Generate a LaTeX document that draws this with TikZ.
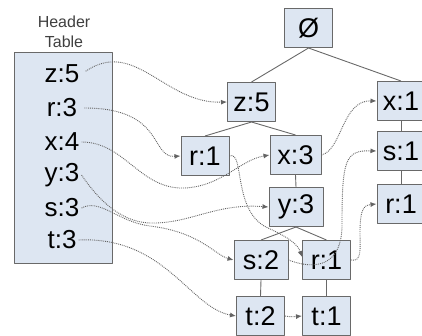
\documentclass[tikz,border=0pt]{standalone}
\usepackage{fontspec}
\setmainfont{Liberation Sans}
\usetikzlibrary{arrows.meta}
\definecolor{fpedge}{RGB}{105,105,105}
\definecolor{fpfill}{RGB}{221,230,242}
\definecolor{fplink}{RGB}{100,100,100}
\tikzset{
  fpbox/.style={
    draw=fpedge, fill=fpfill, line width=1pt, inner sep=0pt,
    minimum width=48pt, minimum height=39pt,
    font=\fontsize{27}{29}\selectfont
  },
  hitem/.style={inner sep=2pt, font=\fontsize{26}{28}\selectfont},
  tedge/.style={draw=fpedge, line width=0.9pt},
  link/.style={-{Latex[length=6pt,width=5pt]}, draw=fplink, densely dotted, line width=0.9pt},
  hlink/.style={link, shorten <=5pt},
  every picture/.append style={line join=round}
}
\begin{document}
\begin{tikzpicture}[x=1pt, y=-1pt]
  \useasboundingbox (0,0) rectangle (422,335);
  % header table
  \node[font=\fontsize{16}{20}\selectfont, text=black!75, align=center] (hlabel) at (64,32) {Header\\Table};
  \node[fpbox, minimum width=98pt, minimum height=211pt] (htab) at (63,157.5) {};
  \foreach \n/\lbl/\y in {hz/z:5/74, hr/r:3/108, hx/x:4/142, hy/y:3/175, hs/s:3/208, ht/t:3/240}
    \node[hitem] (\n) at (62,\y) {\lbl};
  % fp-tree
  \node[fpbox] (root) at (308.5,28) {Ø};
  \node[fpbox] (z5) at (251.5,102) {z:5};
  \node[fpbox] (r1a) at (205,156) {r:1};
  \node[fpbox, minimum width=51pt] (x3) at (295.5,155) {x:3};
  \node[fpbox, minimum width=54pt] (y3) at (296,207) {y:3};
  \node[fpbox, minimum width=54pt] (s2) at (261,260) {s:2};
  \node[fpbox] (r1b) at (326.5,260) {r:1};
  \node[fpbox] (t2) at (260.5,316) {t:2};
  \node[fpbox] (t1) at (326.5,316) {t:1};
  \node[fpbox] (x1) at (401,101) {x:1};
  \node[fpbox] (s1) at (401,151) {s:1};
  \node[fpbox] (r1c) at (401,204) {r:1};
  \foreach \p/\c in {root/z5, root/x1, z5/r1a, z5/x3, x3/y3, y3/s2, y3/r1b, s2/t2, r1b/t1, x1/s1, s1/r1c}
    \draw[tedge] (\p.south) -- (\c.north);
  % node links
  \draw[hlink] (hz.east) .. controls (135,38) and (165,104) .. (z5.west);
  \draw[hlink] (hr.east) .. controls (165,108) and (150,158) .. (r1a.west);
  \draw[link] (hx.east) .. controls (125,142) and (140,190) .. (185,188) .. controls (222,186) and (240,160) .. (x3.west);
  \draw[link] (hy.east) .. controls (95,195) and (118,222) .. (150,223) .. controls (190,224) and (215,203) .. (y3.west);
  \draw[link] (hs.east) .. controls (100,198) and (118,222) .. (150,226) .. controls (200,232) and (215,255) .. (s2.west);
  \draw[link] (ht.east) .. controls (165,236) and (190,308) .. (t2.west);
  \draw[link] (x3.east) .. controls (342,150) and (342,100) .. (x1.west);
  \draw[link] (r1a.east) .. controls (245,150) and (232,212) .. (268,228) .. controls (290,238) and (298,245) .. ([yshift=3pt]r1b.west);
  \draw[link] (s2.east) .. controls (320,272) and (342,262) .. (342,225) .. controls (342,160) and (345,150) .. (s1.west);
  \draw[link] (r1b.east) .. controls (362,262) and (360,250) .. (360,232) .. controls (360,207) and (365,205) .. (r1c.west);
  \draw[link] (t2.east) to[out=-10,in=185] (t1.west);
\end{tikzpicture}
\end{document}
